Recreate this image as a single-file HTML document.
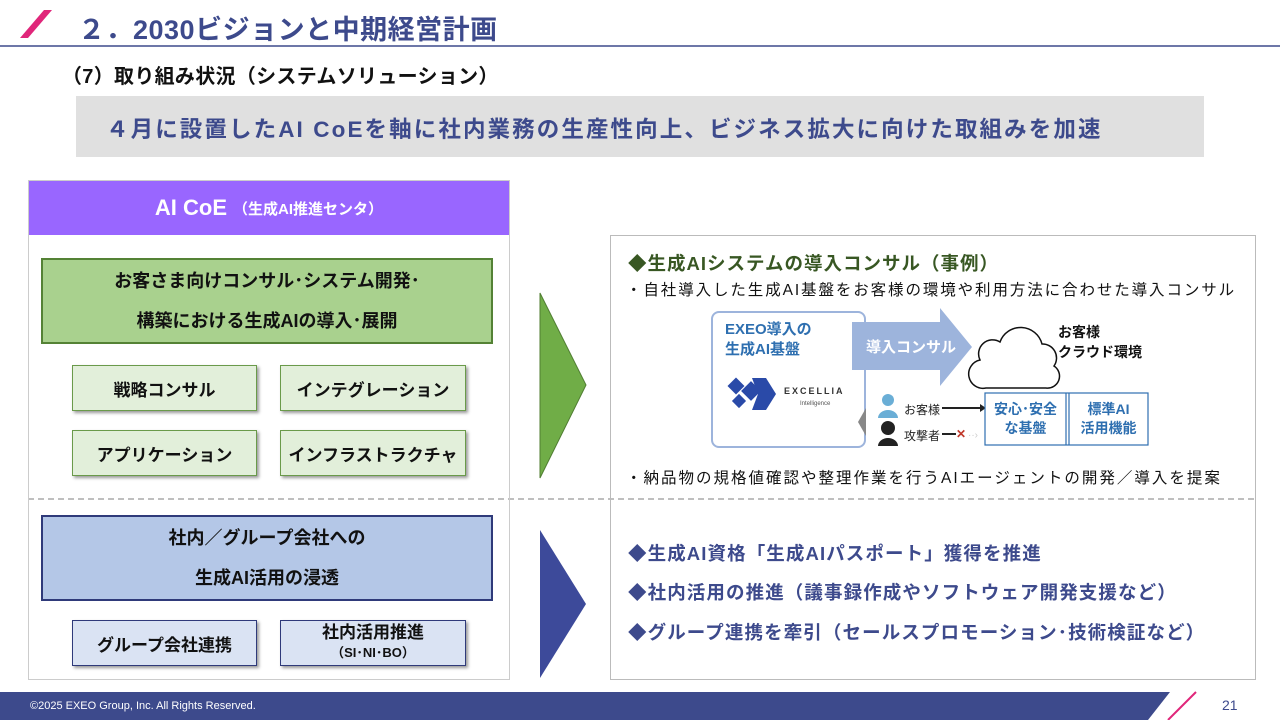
<!DOCTYPE html>
<html><head><meta charset="utf-8"><style>
*{margin:0;padding:0;box-sizing:border-box}
body{width:1280px;height:720px;position:relative;background:#fff;font-family:"Liberation Sans","Noto Sans CJK JP",sans-serif;overflow:hidden}
.a{position:absolute}
.c{display:flex;align-items:center;justify-content:center;text-align:center;font-weight:bold}
.sg{background:#e2efda;border:1.5px solid #6a9a4a;box-shadow:2px 2px 3px #999;font-size:17px;color:#111}
.sb{background:#dae3f3;border:1.5px solid #2f3a7a;box-shadow:2px 2px 3px #999;font-size:17px;color:#111}
.bl{color:#3d4a8c;font-weight:bold;font-size:18.5px;letter-spacing:1.1px;white-space:nowrap}
</style></head><body>
<svg class="a" style="left:0;top:0" width="1280" height="720">
<polygon points="20,38 28,38 52,10 44,10" fill="#e0267a"/>
<line x1="0" y1="46" x2="1280" y2="46" stroke="#3d4a8c" stroke-width="1.5"/>
<line x1="28" y1="499" x2="1256" y2="499" stroke="#aaa" stroke-width="1.5" stroke-dasharray="6,4"/>
<polygon points="540,293 586,385 540,478" fill="#70ad47" stroke="#507e32" stroke-width="1"/>
<polygon points="540,530 586,604 540,678" fill="#3d4a9a"/>
<polygon points="0,692 1170,692 1148,720 0,720" fill="#3d4a8c"/>
<line x1="1168" y1="720" x2="1196" y2="692" stroke="#e0267a" stroke-width="2"/>
</svg>
<div class="a" style="left:78px;top:8px;font-size:27px;font-weight:bold;color:#3d4a8c;letter-spacing:0.5px">２．2030ビジョンと中期経営計画</div>
<div class="a" style="left:62px;top:60px;font-size:20px;font-weight:bold;color:#111;letter-spacing:0.3px">（7）取り組み状況（システムソリューション）</div>
<div class="a" style="left:76px;top:96px;width:1128px;height:61px;background:#e0e0e0"></div>
<div class="a" style="left:106px;top:112px;font-size:22.5px;font-weight:bold;color:#3d4a8c;letter-spacing:2.1px;white-space:nowrap">４月に設置したAI CoEを軸に社内業務の生産性向上、ビジネス拡大に向けた取組みを加速</div>

<div class="a" style="left:28px;top:180px;width:482px;height:500px;border:1.5px solid #ccc"></div>
<div class="a c" style="left:29px;top:181px;width:480px;height:54px;background:#9966ff;color:#fff;font-size:22px">AI CoE <span style="font-size:15px;margin-left:6px">（生成AI推進センタ）</span></div>
<div class="a c" style="left:41px;top:258px;width:452px;height:86px;background:#a9d18e;border:2px solid #548235;font-size:18px;line-height:40px;color:#111">お客さま向けコンサル･システム開発･<br>構築における生成AIの導入･展開</div>
<div class="a c sg" style="left:72px;top:365px;width:185px;height:46px">戦略コンサル</div>
<div class="a c sg" style="left:280px;top:365px;width:186px;height:46px">インテグレーション</div>
<div class="a c sg" style="left:72px;top:430px;width:185px;height:46px">アプリケーション</div>
<div class="a c sg" style="left:280px;top:430px;width:186px;height:46px">インフラストラクチャ</div>
<div class="a c" style="left:41px;top:515px;width:452px;height:86px;background:#b4c7e7;border:2px solid #2f3a7a;font-size:18px;line-height:40px;color:#111">社内／グループ会社への<br>生成AI活用の浸透</div>
<div class="a c sb" style="left:72px;top:620px;width:185px;height:46px">グループ会社連携</div>
<div class="a c sb" style="left:280px;top:620px;width:186px;height:46px;flex-direction:column;line-height:20px">社内活用推進<span style="font-size:13px">（SI･NI･BO）</span></div>

<div class="a" style="left:610px;top:235px;width:646px;height:445px;border:1.5px solid #bbb"></div>
<div class="a" style="left:628px;top:250px;font-size:18.5px;font-weight:bold;color:#385723;letter-spacing:1px;white-space:nowrap">◆生成AIシステムの導入コンサル（事例）</div>
<div class="a" style="left:626px;top:278px;font-size:15.5px;color:#111;letter-spacing:1.9px;white-space:nowrap">・自社導入した生成AI基盤をお客様の環境や利用方法に合わせた導入コンサル</div>
<div class="a" style="left:711px;top:311px;width:155px;height:137px;border:2px solid #9db4dc;border-radius:8px;background:#fff"></div>
<div class="a" style="left:725px;top:320px;font-size:15px;font-weight:bold;color:#2e6fb0;line-height:20px">EXEO導入の<br>生成AI基盤</div>
<svg class="a" style="left:700px;top:300px" width="460" height="160">
<polygon points="152,22 240,22 240,8 272,47 240,86 240,70 152,70" fill="#9db4dc"/>
<polygon points="166,108 158,122 166,136" fill="#888"/>
<path d="M280,60 a14,14 0 0 1 20,-18 a22,22 0 0 1 42,2 a14,14 0 0 1 12,22 a12,12 0 0 1 -8,22 h-60 a12,12 0 0 1 -6,-28z" fill="#fff" stroke="#111" stroke-width="1.5"/>
<g fill="#2a4aa8"><rect x="30" y="80" width="12" height="12" transform="rotate(45 36 86)"/><rect x="44" y="84" width="14" height="14" transform="rotate(45 51 91)"/><rect x="34" y="96" width="10" height="10" transform="rotate(45 39 101)"/><path d="M52,78 l14,0 l10,16 l-10,16 l-14,0 l6,-16z"/></g>
<circle cx="188" cy="100" r="6" fill="#6aaed6"/><path d="M178,118 a10,8 0 0 1 20,0z" fill="#6aaed6"/>
<circle cx="188" cy="128" r="7" fill="#222"/><path d="M178,146 a10,8 0 0 1 20,0z" fill="#222"/>
<line x1="242" y1="108" x2="280" y2="108" stroke="#222" stroke-width="2"/><polygon points="280,104 286,108 280,112" fill="#222"/>
<line x1="242" y1="134" x2="256" y2="134" stroke="#222" stroke-width="2"/>
<text x="256" y="138" font-size="12" fill="#c0392b" font-weight="bold" font-family="Liberation Sans">✕</text>
<text x="268" y="138" font-size="10" fill="#ccc">··›</text>
<rect x="285" y="93" width="163" height="52" fill="#fff" stroke="#2e6fb0" stroke-width="1.2"/>
<line x1="366" y1="93" x2="366" y2="145" stroke="#2e6fb0" stroke-width="1.2"/><line x1="369" y1="93" x2="369" y2="145" stroke="#2e6fb0" stroke-width="1.2"/>
</svg>
<div class="a" style="left:784px;top:386px;font-size:9px;letter-spacing:2px;color:#333;font-weight:bold">EXCELLIA</div>
<div class="a" style="left:800px;top:401px;font-size:6px;color:#555">Intelligence</div>
<div class="a" style="left:866px;top:336px;font-size:15px;font-weight:bold;color:#fff">導入コンサル</div>
<div class="a" style="left:1058px;top:322px;font-size:14px;font-weight:bold;line-height:20px;color:#111">お客様<br>クラウド環境</div>
<div class="a" style="left:904px;top:401px;font-size:12px;color:#222">お客様</div>
<div class="a" style="left:904px;top:427px;font-size:12px;color:#222">攻撃者</div>
<div class="a c" style="left:985px;top:394px;width:81px;height:50px;font-size:14px;line-height:19px;color:#2e6fb0">安心･安全<br>な基盤</div>
<div class="a c" style="left:1069px;top:394px;width:79px;height:50px;font-size:14px;line-height:19px;color:#2e6fb0">標準AI<br>活用機能</div>
<div class="a" style="left:626px;top:466px;font-size:15.5px;color:#111;letter-spacing:2px;white-space:nowrap">・納品物の規格値確認や整理作業を行うAIエージェントの開発／導入を提案</div>
<div class="a bl" style="left:628px;top:540px">◆生成AI資格「生成AIパスポート」獲得を推進</div>
<div class="a bl" style="left:628px;top:579px">◆社内活用の推進（議事録作成やソフトウェア開発支援など）</div>
<div class="a bl" style="left:628px;top:619px">◆グループ連携を牽引（セールスプロモーション･技術検証など）</div>
<div class="a" style="left:30px;top:700px;font-size:11px;color:#fff">©2025 EXEO Group, Inc. All Rights Reserved.</div>
<div class="a" style="left:1222px;top:697px;font-size:14px;color:#3d4a8c">21</div>
</body></html>
